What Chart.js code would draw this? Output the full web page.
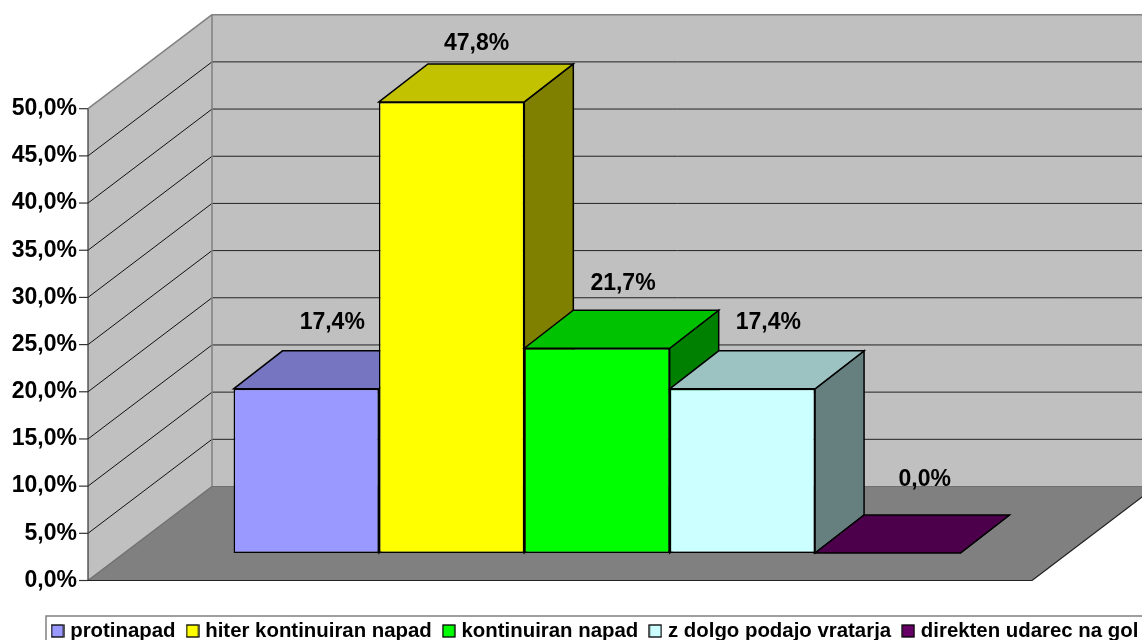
<!DOCTYPE html>
<html>
<head>
<meta charset="utf-8">
<style>
    html, body { margin: 0; padding: 0; background: #fff; overflow: hidden; }
    canvas { display: block; }
</style>
<script src="https://cdn.jsdelivr.net/npm/chart.js@4"></script>
</head>
<body>
<canvas id="chart" width="1142" height="640"></canvas>
<script>
const categories = ['protinapad', 'hiter kontinuiran napad', 'kontinuiran napad', 'z dolgo podajo vratarja', 'direkten udarec na gol'];
const values = [17.4, 47.8, 21.7, 17.4, 0.0];
const tickLabels = ['0,0%', '5,0%', '10,0%', '15,0%', '20,0%', '25,0%', '30,0%', '35,0%', '40,0%', '45,0%', '50,0%'];
const frontColors = ['#9999ff', '#ffff00', '#00ff00', '#ccffff', '#660066'];
const topColors = ['#7575c2', '#c2c200', '#00c200', '#9cc2c2', '#4c004c'];
const sideColors = ['#4d4d80', '#808000', '#008000', '#668080', '#330033'];

const fontFamily = '"Liberation Sans", Arial, sans-serif';
const barLift = 2.914; // bars stand this far up the axis, in the middle of the floor
const plotBottom = 580.5;

// legend boxes are small canvases so they can sit closer to the text
function legendBox(color) {
    const c = document.createElement('canvas');
    c.width = 14;
    c.height = 14;
    const g = c.getContext('2d');
    g.fillStyle = color;
    g.strokeStyle = '#000';
    g.lineWidth = 1.3;
    g.fillRect(1, 1, 12, 12);
    g.strokeRect(1, 1, 12, 12);
    return c;
}

function poly(ctx, points, fill, stroke, width) {
    ctx.beginPath();
    points.forEach((p, i) => i ? ctx.lineTo(p[0], p[1]) : ctx.moveTo(p[0], p[1]));
    ctx.closePath();
    if (fill) { ctx.fillStyle = fill; ctx.fill(); }
    if (stroke) { ctx.strokeStyle = stroke; ctx.lineWidth = width; ctx.stroke(); }
}

function line(ctx, x0, y0, x1, y1, color, width) {
    ctx.beginPath();
    ctx.moveTo(x0, y0);
    ctx.lineTo(x1, y1);
    ctx.strokeStyle = color;
    ctx.lineWidth = width;
    ctx.stroke();
}

const scene = {
    id: 'scene',
    afterLayout(chart) {
        // refit at full width so it stays on one line, strip runs off the bottom of the page
        const legend = chart.legend;
        legend.update(1142, 60, { left: 0, top: 0, right: 0, bottom: 0 });
        legend.left = 40.5;
        legend.right = 1200;
        legend.top = 606.3;
        legend.bottom = 640;

        // layout leaves the plot a little short of the legend, stretch both y scales down
        [chart.scales.y, chart.scales.yBars].forEach(s => {
            s.bottom = plotBottom;
            s.height = s.bottom - s.top;
            s.configure();
        });
        chart.chartArea.bottom = plotBottom;
        chart.chartArea.height = plotBottom - chart.chartArea.top;
    },
    beforeDatasetsDraw(chart) {
        const ctx = chart.ctx;
        const y = chart.scales.y;
        const area = chart.chartArea;
        const left = area.left - 37, right = area.right - 37;
        const y0 = y.getPixelForValue(0), yMax = y.getPixelForValue(50);
        const dx = 124, dy = -94;

        ctx.save();
        // walls and floor
        poly(ctx, [[left, y0], [left + dx, y0 + dy], [left + dx, yMax + dy], [left, yMax]], '#c0c0c0');
        poly(ctx, [[left + dx, yMax + dy], [right + dx, yMax + dy], [right + dx, y0 + dy], [left + dx, y0 + dy]], '#c0c0c0');
        poly(ctx, [[left, y0], [left + dx, y0 + dy], [right + dx, y0 + dy], [right, y0]], '#808080');

        // gridlines round the walls
        y.ticks.forEach(t => {
            const py = y.getPixelForValue(t.value);
            if (t.value > 0 && t.value < 50) {
                line(ctx, left, py, left + dx, py + dy, '#111', 1);
                line(ctx, left + dx, py + dy, right + dx, py + dy, '#222', 1);
            }
            line(ctx, left - 9, py, left, py, '#333', 1.2);
        });
        line(ctx, left, yMax, left + dx, yMax + dy, '#808080', 1.5);
        line(ctx, left + dx, yMax + dy, right + dx, yMax + dy, '#808080', 1.5);
        line(ctx, left + dx, yMax + dy, left + dx, y0 + dy, '#808080', 1.5);
        line(ctx, left, y0, left + dx, y0 + dy, '#707070', 1.5);
        line(ctx, left + dx, y0 + dy, right + dx, y0 + dy, '#707070', 1);
        line(ctx, left, yMax, left, y0, '#333', 1.2);
        line(ctx, left, y0, right, y0, '#222', 1.2);
        line(ctx, right, y0, right + dx, y0 + dy, '#222', 1.2);

        // bars left to right, each one covers the side of the one before
        const bx = 49, by = -38;
        chart.data.datasets.forEach((ds, i) => {
            const bar = chart.getDatasetMeta(i).data[0];
            const x0 = bar.x - bar.width / 2, x1 = bar.x + bar.width / 2;
            poly(ctx, [[x1, bar.y], [x1 + bx, bar.y + by], [x1 + bx, bar.base + by], [x1, bar.base]], sideColors[i], '#000', 1.5);
            poly(ctx, [[x0, bar.y], [x0 + bx, bar.y + by], [x1 + bx, bar.y + by], [x1, bar.y]], topColors[i], '#000', 1.5);
            bar.draw(ctx, area);
        });
        ctx.restore();
        return false;
    },
    afterDraw(chart) {
        const ctx = chart.ctx;
        const labelShift = [[26, -66], [25, -58], [26, -65], [26, -66], [37, -73]];
        ctx.save();
        // legend frame, bottom edge is off the page
        ctx.strokeStyle = '#808080';
        ctx.lineWidth = 1.5;
        ctx.strokeRect(46, 616, 1110, 40);

        ctx.font = 'bold 23px ' + fontFamily;
        ctx.fillStyle = '#000';
        ctx.textAlign = 'center';
        ctx.textBaseline = 'middle';
        values.forEach((v, i) => {
            const bar = chart.getDatasetMeta(i).data[0];
            ctx.fillText(v.toFixed(1).replace('.', ',') + '%', bar.x + labelShift[i][0], bar.y + labelShift[i][1]);
        });
        ctx.restore();
    }
};

new Chart(document.getElementById('chart'), {
    type: 'bar',
    data: {
        labels: [''],
        datasets: categories.map((name, i) => ({
            label: name,
            data: [values[i]],
            yAxisID: 'yBars',
            backgroundColor: frontColors[i],
            borderColor: '#000',
            borderWidth: 1.5,
            borderSkipped: false
        }))
    },
    plugins: [scene],
    options: {
        responsive: false,
        animation: false,
        categoryPercentage: 0.77,
        barPercentage: 1,
        layout: { padding: { top: 108.7, right: 0, left: 0, bottom: 0 } },
        scales: {
            x: {
                grid: { display: false },
                border: { display: false },
                ticks: { display: false },
                afterFit: s => { s.height = 7; }
            },
            y: {
                min: 0,
                max: 50,
                grid: { display: false, drawTicks: false },
                border: { display: false },
                ticks: {
                    stepSize: 5,
                    padding: 48,
                    color: '#000',
                    font: { family: fontFamily, weight: 'bold', size: 23 },
                    callback: (v, i) => tickLabels[i]
                },
                afterFit: s => { s.width = 125; }
            },
            // invisible axis on the right, keeps room for the depth of the floor
            yBars: {
                position: 'right',
                min: -barLift,
                max: 50 - barLift,
                grid: { display: false, drawTicks: false },
                border: { display: false },
                ticks: { display: false },
                afterFit: s => { s.width = 73; }
            }
        },
        plugins: {
            tooltip: { enabled: false },
            legend: {
                position: 'bottom',
                align: 'start',
                labels: {
                    color: '#000',
                    font: { family: fontFamily, weight: 'bold', size: 20.4 },
                    usePointStyle: true,
                    pointStyleWidth: 5,
                    padding: 14.5,
                    generateLabels: chart => chart.data.datasets.map((ds, i) => ({
                        text: ds.label,
                        fontColor: '#000',
                        pointStyle: legendBox(frontColors[i]),
                        datasetIndex: i
                    }))
                }
            }
        }
    }
});
</script>
</body>
</html>
